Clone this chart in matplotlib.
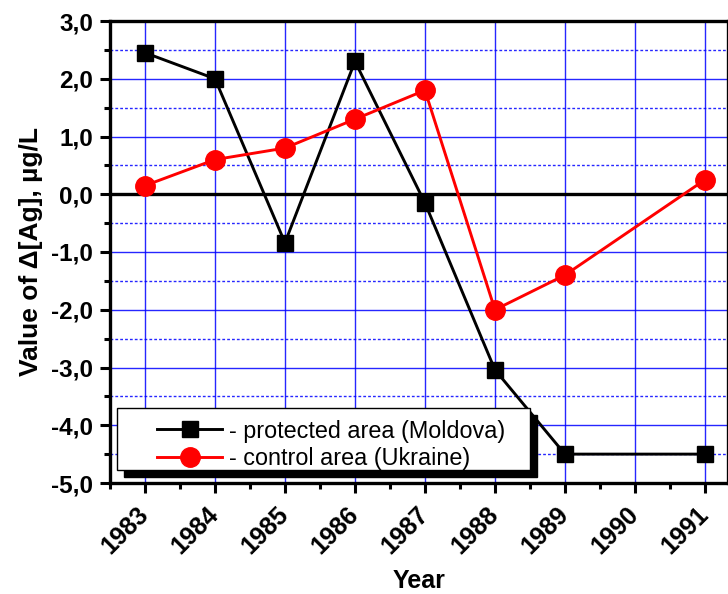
import matplotlib
matplotlib.use('Agg')
import matplotlib.pyplot as plt
import matplotlib.transforms as mtransforms
from matplotlib.ticker import MultipleLocator, FuncFormatter
from matplotlib.patches import Rectangle

plt.rcParams['font.family'] = ['Liberation Sans', 'DejaVu Sans']

years = [1983, 1984, 1985, 1986, 1987, 1988, 1989, 1990, 1991]
moldova_years = [1983, 1984, 1985, 1986, 1987, 1988, 1989, 1991]
moldova = [2.45, 2.0, -0.84, 2.3, -0.15, -3.04, -4.5, -4.5]
ukraine_years = [1983, 1984, 1985, 1986, 1987, 1988, 1989, 1991]
ukraine = [0.15, 0.6, 0.8, 1.3, 1.8, -2.0, -1.4, 0.25]

fig = plt.figure(figsize=(7.28, 5.94), dpi=100)
ax = fig.add_axes([110/728, 1-483/594, 1-110/728, (483-21)/594])

ax.set_xlim(1982.5, 1991.33)
ax.set_ylim(-5, 3)

# ticks and grid
ax.xaxis.set_minor_locator(MultipleLocator(0.5))
ax.yaxis.set_major_locator(MultipleLocator(1))
ax.yaxis.set_minor_locator(MultipleLocator(0.5))
ax.yaxis.set_major_formatter(FuncFormatter(lambda v, p: ('%.1f' % v).replace('.', ',')))
ax.grid(which='major', axis='both', color='#0000ff', lw=1, alpha=0.85)
ax.grid(which='minor', axis='y', color='#0000ff', lw=1, ls=(0, (2, 1.5)), alpha=0.85)
ax.set_axisbelow(True)

ax.axhline(0, color='black', lw=2.4, zorder=2)

ax.tick_params(which='major', direction='out', length=7, width=2.2, pad=5)
ax.tick_params(which='minor', direction='out', length=4.5, width=2.2)
ax.tick_params(axis='x', which='major', pad=7)
ax.tick_params(axis='y', labelsize=17.5)
for s in ['left', 'bottom', 'top', 'right']:
    ax.spines[s].set_linewidth(2.4)

ax.set_xticks(years)
ax.set_xticklabels([str(y) for y in years], rotation=45, ha='right',
                   rotation_mode='anchor', fontsize=18, fontweight='bold')
shift = mtransforms.ScaledTranslation(-9/100, 0, fig.dpi_scale_trans)
for lbl in ax.get_xticklabels():
    lbl.set_transform(lbl.get_transform() + shift)
for lbl in ax.get_yticklabels():
    lbl.set_fontweight('bold')

ax.plot(moldova_years, moldova, color='black', lw=2.1, marker='s', ms=12,
        label='- protected area (Moldova)', zorder=3, clip_on=False)
ax.plot(ukraine_years, ukraine, color='#ff0000', lw=2.1, marker='o', ms=14,
        label='- control area (Ukraine)', zorder=3, clip_on=False)

ax.set_ylabel('Value of \u0394[Ag], \u00b5g/L', fontsize=19, fontweight='bold', labelpad=6)
ax.set_xlabel('Year', fontsize=18, fontweight='bold', labelpad=7)

# legend with box and solid shadow
x0, x1 = (117-110)/618, (530-110)/618
y0, y1 = (483-470)/462, (483-408)/462
dx, dy = 7/618, 7/462
ax.add_patch(Rectangle((x0+dx, y0-dy), x1-x0, y1-y0, transform=ax.transAxes,
                       facecolor='black', edgecolor='black', zorder=6, clip_on=False))
ax.add_patch(Rectangle((x0, y0), x1-x0, y1-y0, transform=ax.transAxes,
                       facecolor='white', edgecolor='black', lw=1, zorder=7, clip_on=False))
leg = ax.legend(loc='center right', bbox_to_anchor=(x1, (483-445)/462), frameon=False,
                fontsize=16.8, handlelength=2.8, handletextpad=0.3, labelspacing=0.2,
                borderaxespad=0.65)
leg.set_zorder(8)

fig.savefig('out.png', dpi=100)
